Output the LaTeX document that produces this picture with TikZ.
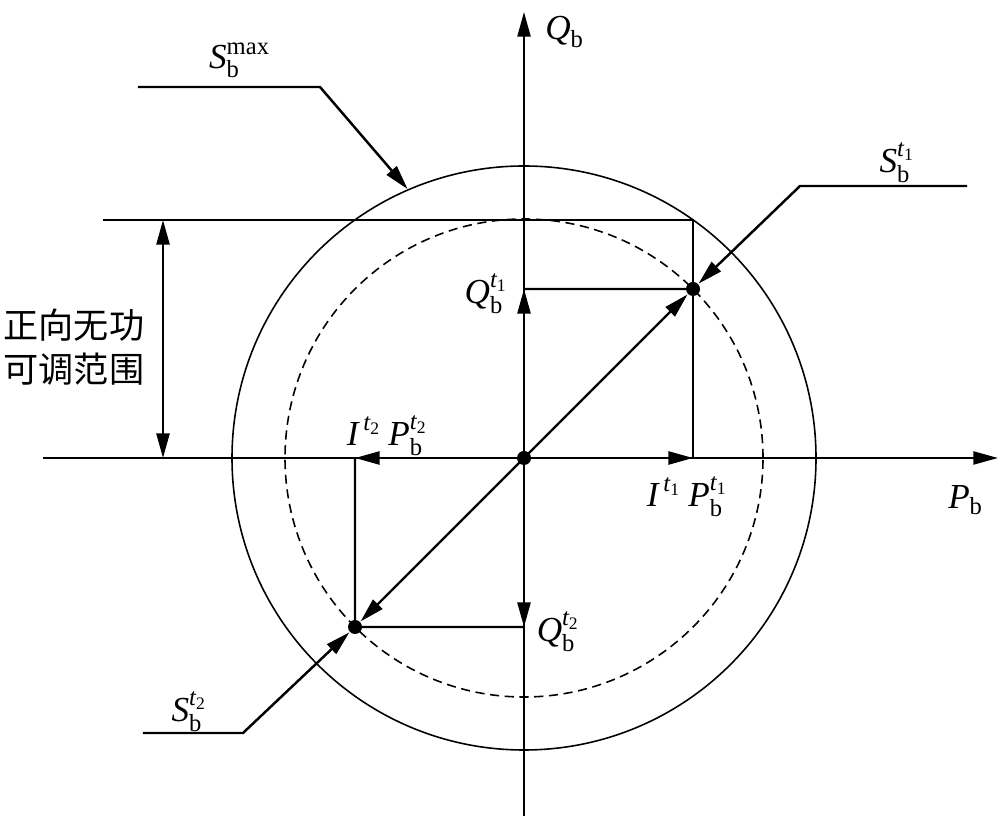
\documentclass[tikz,border=0pt]{standalone}
\usepackage{amsmath}
\usepackage{fontspec}
\setmainfont{Liberation Serif}
\newfontfamily\cjk{Noto Sans CJK SC}
\usetikzlibrary{arrows.meta}
\newcommand{\itv}[1]{\text{\itshape #1}}
\newcommand{\tsup}[1]{\itv{t}_{\text{#1}}}

\begin{document}
\begin{tikzpicture}[
		axisline/.style={line width=0.6pt},
		thinline/.style={line width=0.45pt},
		arr/.style={line width=0.7pt, -{Triangle[length=7pt,width=3.7pt]}},
		dot/.style={circle, fill=black, inner sep=0pt, minimum size=0.14cm},
		lbl/.style={inner sep=1pt, font=\fontsize{10}{12}\selectfont}
	]
			%%%%% START %%%%%
			\useasboundingbox (-5.24, -3.60) rectangle (4.76, 4.58);
			
			\coordinate (O) at (0, 0);
			\coordinate (xl) at (-4.81, 0);
			\coordinate (xr) at (4.74, 0);
			\coordinate (yb) at (0, -3.58);
			\coordinate (yt) at (0, 4.46);
			
			% circles
			\draw[thinline] (O) circle (2.92cm);
			\draw[thinline, dash pattern=on 2.6pt off 1.6pt] (O) circle (2.39cm);
			
			% axes
			\draw[axisline, -{Triangle[length=7pt,width=3.7pt]}] (xl) -- (xr);
			\draw[axisline, -{Triangle[length=7pt,width=3.7pt]}] (yb) -- (yt);
			
			\node[dot] (t1) at (45:2.39) {};
			\node[dot] (t2) at (225:2.39) {};
			\node[dot] (o) at (O) {};
			
			\coordinate (p1) at (1.69, 0);
			\coordinate (p2) at (-1.69, 0);
			\coordinate (q1) at (0, 1.69);
			\coordinate (q2) at (0, -1.69);
			\coordinate (topl) at (-4.21, 2.38);
			\coordinate (topr) at (1.69, 2.38);
			
			% projections
			\draw[axisline] (topl) -- (topr) -- (p1);
			\draw[axisline] (q1) -- (t1.center);
			\draw[axisline] (p2) -- (t2.center) -- (q2);
			
			% components
			\draw[arr] (O) -- (p1);
			\draw[arr] (O) -- (p2);
			\draw[arr] (O) -- (q1);
			\draw[arr] (O) -- (q2);
			\draw[arr] (O) -- (t1);
			\draw[arr] (O) -- (t2);
			
			% range
			\coordinate (ra) at (-3.61, 2.38);
			\coordinate (rb) at (-3.61, 0);
			\draw[line width=0.7pt, {Triangle[length=7pt,width=3.7pt]}-{Triangle[length=7pt,width=3.7pt]}] (ra) -- (rb);
			\node[lbl, font=\cjk\fontsize{10}{12.3}\selectfont, align=center] (range) at (-4.50, 1.11) {正向无功\\可调范围};
			
			% leaders
			\coordinate (smA) at (-3.86, 3.71);
			\coordinate (smB) at (-2.04, 3.71);
			\coordinate (smC) at (113.4:2.93);
			\draw[arr] (smA) -- (smB) -- (smC);
			
			\coordinate (s1A) at (4.43, 2.72);
			\coordinate (s1B) at (2.76, 2.72);
			\draw[arr] (s1A) -- (s1B) -- (t1);
			
			\coordinate (s2A) at (-3.81, -2.75);
			\coordinate (s2B) at (-2.81, -2.75);
			\draw[arr] (s2A) -- (s2B) -- (t2);
			
			% labels
			\node[lbl] (smax) at (-2.84, 3.98) {$\itv{S}^{\text{max}}_{\text{b}}$};
			\node[lbl] (st1) at (3.74, 2.95) {$\itv{S}^{\tsup{1}}_{\text{b}}$};
			\node[lbl] (st2) at (-3.34, -2.54) {$\itv{S}^{\tsup{2}}_{\text{b}}$};
			\node[lbl] (qb) at (0.41, 4.26) {$\itv{Q}_{\text{b}}$};
			\node[lbl] (pb) at (4.42, -0.42) {$\itv{P}_{\text{b}}$};
			\node[lbl] (qt1) at (-0.37, 1.64) {$\itv{Q}^{\tsup{1}}_{\text{b}}$};
			\node[lbl] (qt2) at (0.35, -1.74) {$\itv{Q}^{\tsup{2}}_{\text{b}}$};
			\node[lbl] (pt1) at (1.64, -0.39) {$\itv{I}^{\,\tsup{1}}\,\itv{P}^{\tsup{1}}_{\text{b}}$};
			\node[lbl] (pt2) at (-1.36, 0.22) {$\itv{I}^{\,\tsup{2}}\,\itv{P}^{\tsup{2}}_{\text{b}}$};
			
			%%%%% END %%%%%
		\end{tikzpicture}
\end{document}
